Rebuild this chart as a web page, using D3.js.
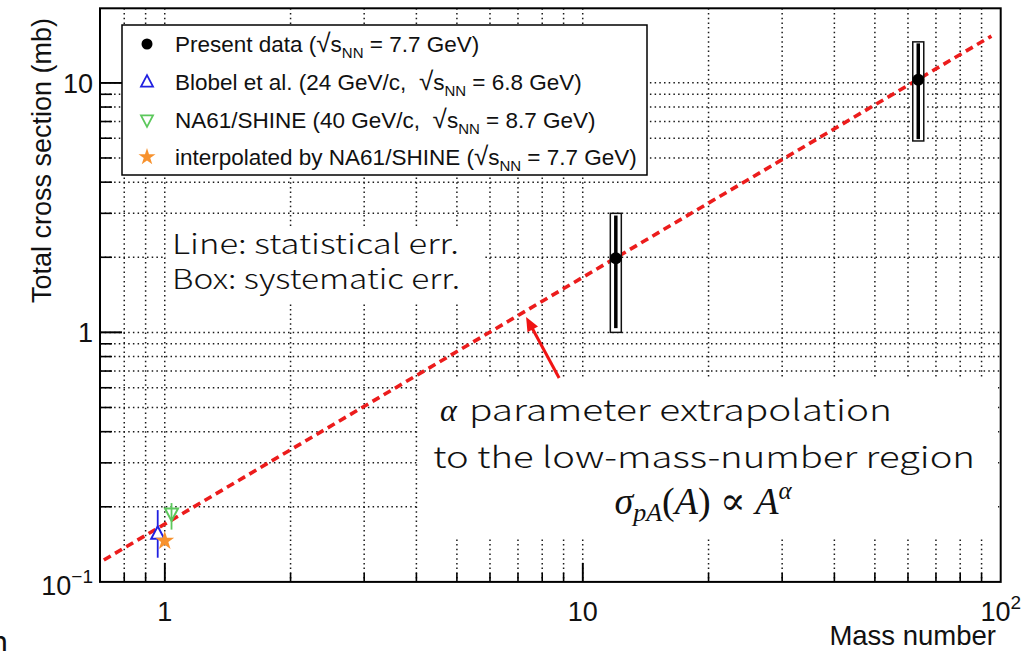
<!DOCTYPE html>
<html><head><meta charset="utf-8">
<script src="https://cdn.jsdelivr.net/npm/d3@7"></script>
<style>
html,body{margin:0;padding:0;background:#fff;}
svg{display:block;}
text{white-space:pre;}
</style></head><body>
<svg id="chart" width="1026" height="651"></svg>
<script>
// ---------------- data ----------------
const xDomain = [0.7, 100];
const yDomain = [0.1, 19.9];
const xMajorTicks = [1, 10, 100];
const xMajorLabels = [["1", ""], ["10", ""], ["10", "2"]];
const yMajorTicks = [0.1, 1, 10];
const yMajorLabels = [["10", "\u22121"], ["1", ""], ["10", ""]];

// Present data (sqrt(sNN) = 7.7 GeV)
const presentA      = [12, 63.5];
const presentSigma  = [1.98, 10.3];
const presentStatLo = [1.04, 5.95];
const presentStatHi = [2.94, 14.4];
const presentSysLo  = [1.0, 5.85];
const presentSysHi  = [3.0, 14.6];

// Blobel et al. (24 GeV/c)
const blobelA = [0.962], blobelSigma = [0.156], blobelLo = [0.125], blobelHi = [0.194];
// NA61/SHINE (40 GeV/c)
const na61A = [1.038], na61Sigma = [0.188], na61Lo = [0.162], na61Hi = [0.207];
// interpolated by NA61/SHINE
const interpA = [1.0], interpSigma = [0.146];

// alpha-parameter extrapolation line (end points)
const fitA = [0.715, 95];
const fitSigma = [0.1224, 15.4];

// annotation arrow (data coordinates)
const arrowFrom = [8.78, 0.656];
const arrowTo = [7.32, 1.153];

const legendLabels = [
  ["Present data (", " = 7.7 GeV)"],
  ["Blobel et al. (24 GeV/c,  ", " = 6.8 GeV)"],
  ["NA61/SHINE (40 GeV/c,  ", " = 8.7 GeV)"],
  ["interpolated by NA61/SHINE (", " = 7.7 GeV)"]
];

// ---------------- layout ----------------
const L = 100, R = 1000.7, T = 8.3, B = 581.9;
const svg = d3.select("#chart");
const x = d3.scaleLog().domain(xDomain).range([L, R]);
const y = d3.scaleLog().domain(yDomain).range([B, T]);

const SANS = "'Liberation Sans', Arial, sans-serif";
const JP = "'Noto Sans CJK JP', sans-serif";
const SERIF = "'Liberation Serif', 'DejaVu Serif', serif";

const xAll = x.ticks().filter(v => v > xDomain[0] * 1.001 && v < xDomain[1] * 0.999);
const yAll = y.ticks().filter(v => v > yDomain[0] * 1.001 && v < yDomain[1] * 0.999);
const isMajor = v => Math.abs(Math.log10(v) - Math.round(Math.log10(v))) < 1e-6;

// grid
const grid = svg.append("g").attr("stroke", "#1a1a1a").attr("stroke-width", 1.5)
  .attr("stroke-dasharray", "1.5,3.2").attr("fill", "none");
grid.selectAll("line.gx").data(xAll).join("line").attr("class", "gx")
  .attr("x1", d => x(d)).attr("x2", d => x(d)).attr("y1", T).attr("y2", B);
grid.selectAll("line.gy").data(yAll).join("line").attr("class", "gy")
  .attr("y1", d => y(d)).attr("y2", d => y(d)).attr("x1", L).attr("x2", R);

// white boxes behind annotation texts
svg.append("rect").attr("x", 166).attr("y", 226).attr("width", 319).attr("height", 76).attr("fill", "#fff");
svg.append("rect").attr("x", 419).attr("y", 379).attr("width", 579).attr("height", 160).attr("fill", "#fff");

// fit line
const line = d3.line().x(d => x(d[0])).y(d => y(d[1]));
svg.append("path").datum(fitA.map((a, i) => [a, fitSigma[i]]))
  .attr("d", line).attr("fill", "none").attr("stroke", "#ec1c1c")
  .attr("stroke-width", 3.6).attr("stroke-dasharray", "8,5");

// present data: systematic boxes, stat lines, points
const present = presentA.map((a, i) => ({a, s: presentSigma[i], lo: presentStatLo[i], hi: presentStatHi[i], slo: presentSysLo[i], shi: presentSysHi[i]}));
svg.selectAll("rect.sys").data(present).join("rect").attr("class", "sys")
  .attr("x", d => x(d.a) - 5.5).attr("width", 11)
  .attr("y", d => y(d.shi)).attr("height", d => y(d.slo) - y(d.shi))
  .attr("fill", "#fff").attr("stroke", "#111").attr("stroke-width", 1.5);
svg.selectAll("line.stat").data(present).join("line").attr("class", "stat")
  .attr("x1", d => x(d.a)).attr("x2", d => x(d.a))
  .attr("y1", d => y(d.hi)).attr("y2", d => y(d.lo))
  .attr("stroke", "#000").attr("stroke-width", 3.5);
svg.selectAll("circle.pt").data(present).join("circle").attr("class", "pt")
  .attr("cx", d => x(d.a)).attr("cy", d => y(d.s)).attr("r", 6).attr("fill", "#000");

// triangle helpers
function triUp(cx, cy, w) { const h = w * 0.95; return `M${cx},${cy - h * 0.6}L${cx + w / 2},${cy + h * 0.4}L${cx - w / 2},${cy + h * 0.4}Z`; }
function triDown(cx, cy, w) { const h = w * 0.95; return `M${cx},${cy + h * 0.6}L${cx + w / 2},${cy - h * 0.4}L${cx - w / 2},${cy - h * 0.4}Z`; }

// Blobel
const blobel = blobelA.map((a, i) => ({a, s: blobelSigma[i], lo: blobelLo[i], hi: blobelHi[i]}));
svg.selectAll("line.bl").data(blobel).join("line").attr("class", "bl")
  .attr("x1", d => x(d.a)).attr("x2", d => x(d.a)).attr("y1", d => y(d.hi)).attr("y2", d => y(d.lo))
  .attr("stroke", "#2020e0").attr("stroke-width", 1.8);
svg.selectAll("path.blm").data(blobel).join("path").attr("class", "blm")
  .attr("d", d => triUp(x(d.a), y(d.s), 13)).attr("fill", "#fff").attr("stroke", "#2020e0").attr("stroke-width", 2);

// NA61 40 GeV/c
const na61 = na61A.map((a, i) => ({a, s: na61Sigma[i], lo: na61Lo[i], hi: na61Hi[i]}));
svg.selectAll("line.na").data(na61).join("line").attr("class", "na")
  .attr("x1", d => x(d.a)).attr("x2", d => x(d.a)).attr("y1", d => y(d.hi)).attr("y2", d => y(d.lo))
  .attr("stroke", "#5cc85c").attr("stroke-width", 1.8);
svg.selectAll("path.nam").data(na61).join("path").attr("class", "nam")
  .attr("d", d => triDown(x(d.a), y(d.s), 13)).attr("fill", "none").attr("stroke", "#5cc85c").attr("stroke-width", 2);

// interpolated
const star = d3.symbol().type(d3.symbolStar).size(110);
const interp = interpA.map((a, i) => ({a, s: interpSigma[i]}));
svg.selectAll("path.st").data(interp).join("path").attr("class", "st")
  .attr("transform", d => `translate(${x(d.a)},${y(d.s)})`).attr("d", star()).attr("fill", "#f7922e");

// axes ticks (inward)
const ax = svg.append("g").attr("stroke", "#000").attr("stroke-width", 1.6);
ax.selectAll("line.xt").data(xAll.concat(xMajorTicks.filter(v => v < xDomain[1]))).join("line").attr("class", "xt")
  .attr("x1", d => x(d)).attr("x2", d => x(d)).attr("y1", B).attr("y2", d => B - (isMajor(d) ? 19 : 9));
ax.selectAll("line.yt").data(yAll.concat(yMajorTicks.filter(v => v > yDomain[0]))).join("line").attr("class", "yt")
  .attr("y1", d => y(d)).attr("y2", d => y(d)).attr("x1", L).attr("x2", d => L + (isMajor(d) ? 22 : 12));

// frame
svg.append("rect").attr("x", L).attr("y", T).attr("width", R - L).attr("height", B - T)
  .attr("fill", "none").attr("stroke", "#000").attr("stroke-width", 2);

// tick labels
const xl = svg.append("g").attr("font-family", SANS).attr("font-size", 27).attr("fill", "#111");
xMajorTicks.forEach((v, i) => {
  const t = xl.append("text").attr("x", x(v)).attr("y", 621).attr("text-anchor", "middle");
  t.append("tspan").text(xMajorLabels[i][0]);
  if (xMajorLabels[i][1]) t.append("tspan").attr("dy", -12).attr("font-size", 19).text(xMajorLabels[i][1]);
});
yMajorTicks.forEach((v, i) => {
  const lab = yMajorLabels[i];
  const t = xl.append("text").attr("x", 93).attr("y", v === 0.1 ? 595 : y(v) + 9.8).attr("text-anchor", "end");
  t.append("tspan").text(lab[0]);
  if (lab[1]) t.append("tspan").attr("dy", -12).attr("font-size", 19).text(lab[1]);
});

// axis titles
svg.append("text").attr("font-family", SANS).attr("font-size", 27.5).attr("fill", "#111")
  .attr("x", 996).attr("y", 645).attr("text-anchor", "end").text("Mass number");
svg.append("text").attr("font-family", SANS).attr("font-size", 27).attr("fill", "#111")
  .attr("transform", "translate(51,18) rotate(-90)").attr("text-anchor", "end").text("Total cross section (mb)");

// legend
const lg = svg.append("g");
lg.append("rect").attr("x", 122).attr("y", 25).attr("width", 525).attr("height", 150)
  .attr("fill", "#fff").attr("stroke", "#000").attr("stroke-width", 1.5);
const rowY = [44, 82, 120, 157];
lg.append("circle").attr("cx", 147).attr("cy", rowY[0]).attr("r", 5.5).attr("fill", "#000");
lg.append("path").attr("d", triUp(147, rowY[1], 12)).attr("fill", "none").attr("stroke", "#2020e0").attr("stroke-width", 1.8);
lg.append("path").attr("d", triDown(147, rowY[2], 12)).attr("fill", "none").attr("stroke", "#5cc85c").attr("stroke-width", 1.8);
lg.append("path").attr("transform", `translate(147,${rowY[3]})`).attr("d", d3.symbol().type(d3.symbolStar).size(90)()).attr("fill", "#f7922e");
legendLabels.forEach((lab, i) => {
  const t = lg.append("text").attr("x", 175).attr("y", rowY[i] + 8).attr("font-family", SANS).attr("font-size", 22.5).attr("fill", "#111");
  t.append("tspan").text(lab[0]);
  t.append("tspan").attr("font-size", 26).text("\u221A");
  t.append("tspan").text("s");
  t.append("tspan").attr("dy", 6).attr("font-size", 15).text("NN");
  t.append("tspan").attr("dy", -6).text(lab[1]);
});

// annotation texts
svg.append("text").attr("x", 172).attr("y", 254).attr("font-family", JP).attr("font-weight", 300).attr("font-size", 27).attr("fill", "#111")
  .attr("textLength", 287).attr("lengthAdjust", "spacingAndGlyphs").text("Line: statistical err.");
svg.append("text").attr("x", 172).attr("y", 289).attr("font-family", JP).attr("font-weight", 300).attr("font-size", 27).attr("fill", "#111")
  .attr("textLength", 288).attr("lengthAdjust", "spacingAndGlyphs").text("Box: systematic err.");

svg.append("text").attr("x", 440).attr("y", 421).attr("font-family", SERIF).attr("font-style", "italic").attr("font-size", 32).attr("fill", "#111").text("\u03B1");
svg.append("text").attr("x", 469).attr("y", 421).attr("font-family", JP).attr("font-weight", 300).attr("font-size", 29).attr("fill", "#111")
  .attr("textLength", 423).attr("lengthAdjust", "spacingAndGlyphs").text("parameter extrapolation");
svg.append("text").attr("x", 433).attr("y", 468).attr("font-family", JP).attr("font-weight", 300).attr("font-size", 29).attr("fill", "#111")
  .attr("textLength", 542).attr("lengthAdjust", "spacingAndGlyphs").text("to the low-mass-number region");

const f = svg.append("text").attr("x", 703).attr("y", 514).attr("text-anchor", "middle")
  .attr("font-family", SERIF).attr("font-size", 38).attr("fill", "#111");
f.append("tspan").attr("font-style", "italic").text("\u03C3");
f.append("tspan").attr("font-style", "italic").attr("font-size", 26).attr("dy", 7).text("pA");
f.append("tspan").attr("dy", -7).text("(");
f.append("tspan").attr("font-style", "italic").text("A");
f.append("tspan").text(") \u221D ");
f.append("tspan").attr("font-style", "italic").text("A");
f.append("tspan").attr("font-style", "italic").attr("font-size", 25).attr("dy", -15).text("\u03B1");

// arrow
const ah = svg.append("g");
const x1 = x(arrowFrom[0]), y1 = y(arrowFrom[1]), x2 = x(arrowTo[0]), y2 = y(arrowTo[1]);
const dx = x2 - x1, dy = y2 - y1, len = Math.hypot(dx, dy), ux = dx / len, uy = dy / len;
const hl = 14, hw = 6;
ah.append("line").attr("x1", x1).attr("y1", y1).attr("x2", x2 - ux * hl * 0.8).attr("y2", y2 - uy * hl * 0.8)
  .attr("stroke", "#f01414").attr("stroke-width", 3);
ah.append("path").attr("d", `M${x2},${y2}L${x2 - ux * hl - uy * hw},${y2 - uy * hl + ux * hw}L${x2 - ux * hl + uy * hw},${y2 - uy * hl - ux * hw}Z`)
  .attr("fill", "#f01414");

// fragment of text at bottom-left edge (cut off in the reference too)
svg.append("text").attr("x", -10).attr("y", 652).attr("font-family", JP).attr("font-size", 30).attr("fill", "#111").text("n");
</script>
</body></html>
